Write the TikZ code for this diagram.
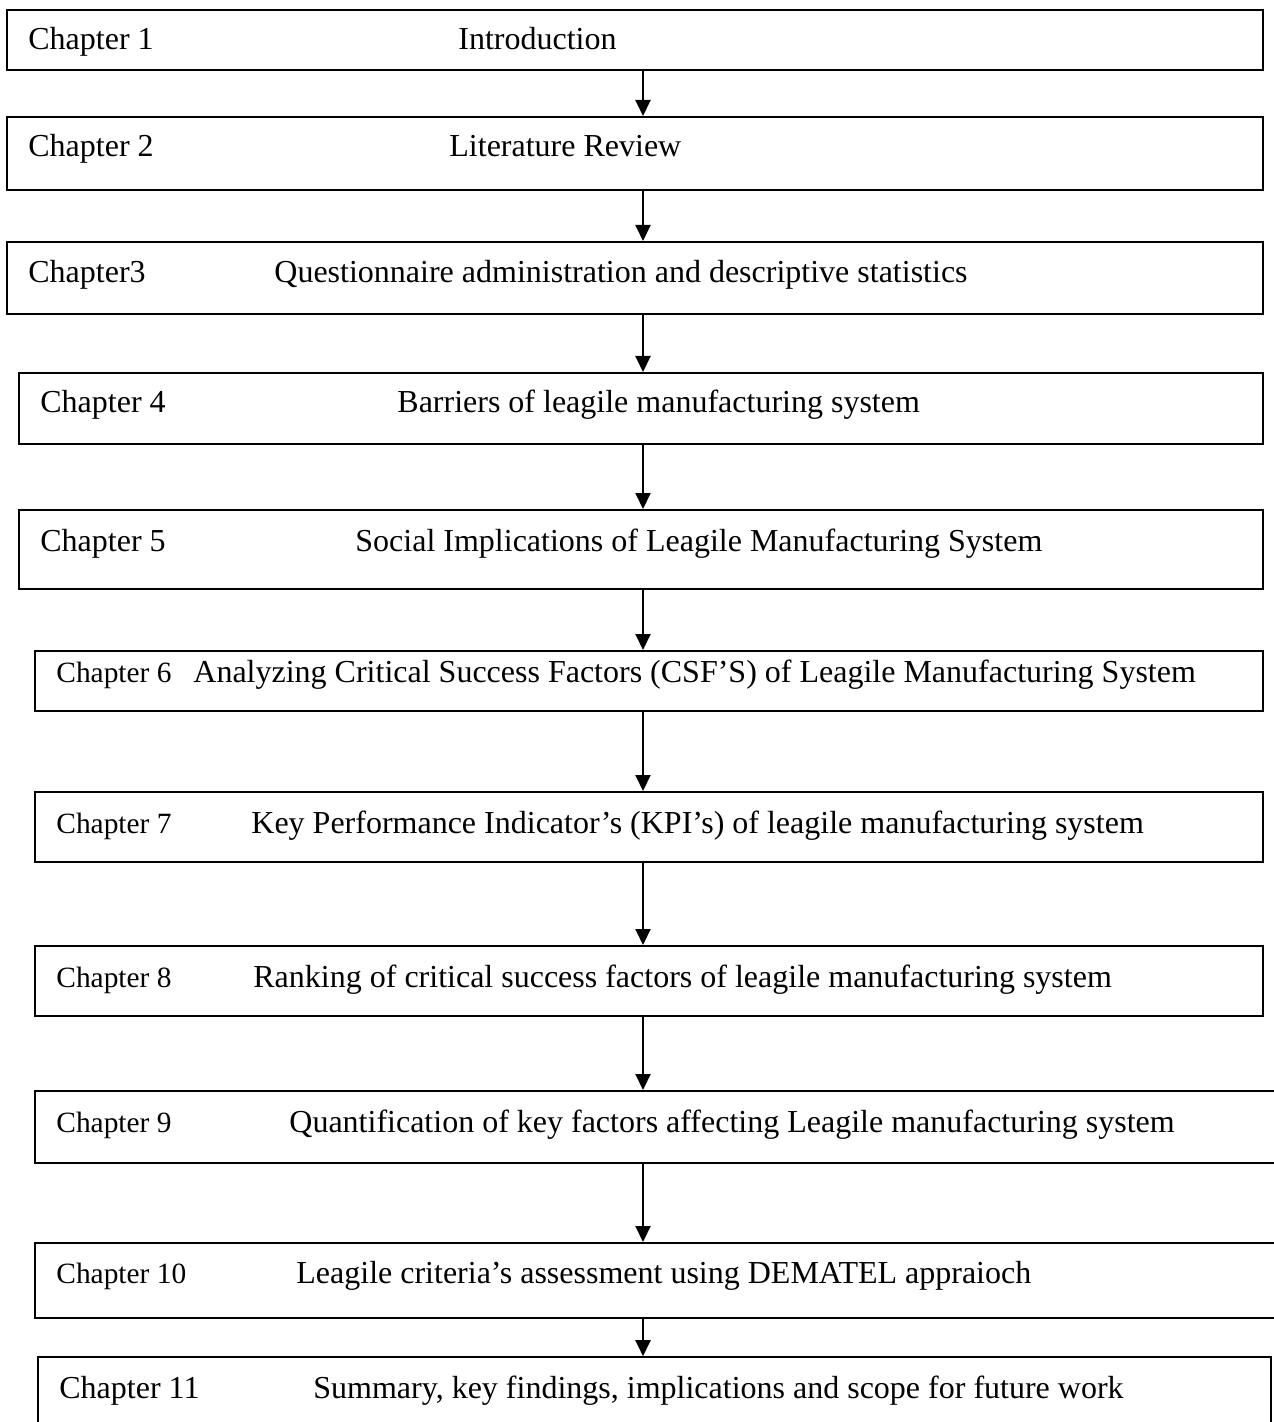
\documentclass[tikz,border=0pt]{standalone}
\usepackage{fontspec}
\setmainfont{Liberation Serif}
\usetikzlibrary{arrows.meta,fit}
\tikzset{
  x=0.5pt, y=-0.5pt,
  chbox/.style={draw, line width=1pt, inner sep=0pt, rectangle},
  lbl/.style={anchor=base west, inner sep=0pt, font=\fontsize{16}{19}\selectfont},
  lbls/.style={anchor=base west, inner sep=0pt, font=\fontsize{14.7}{18}\selectfont},
  arr/.style={line width=1pt, -{Triangle[width=7.5pt,length=8pt]}}
}
\newcommand{\chbox}[5]{\node[chbox, fit={(#2,#3) (#4,#5)}] (#1) {};}
\begin{document}
\begin{tikzpicture}
\useasboundingbox (0,0) rectangle (1273,1422);
% chapter boxes
\chbox{c1}{7}{10}{1263}{70}
\chbox{c2}{7}{117}{1263}{190}
\chbox{c3}{7}{242}{1263}{314}
\chbox{c4}{19}{373}{1263}{444}
\chbox{c5}{19}{510}{1263}{589}
\chbox{c6}{35}{651}{1263}{711}
\chbox{c7}{35}{792}{1263}{862}
\chbox{c8}{35}{946}{1263}{1016}
\chbox{c9}{35}{1091}{1290}{1163}
\chbox{c10}{35}{1243}{1290}{1318}
\node[draw, line width=0.8pt, inner sep=0pt, fit={(38,1357) (1271,1440)}] (c11) {};
% labels
\node[lbl] (l1a) at (28,50) {Chapter 1};
\node[lbl] (l1b) at (458,50) {Introduction};
\node[lbl] (l2a) at (28,157) {Chapter 2};
\node[lbl] (l2b) at (449,157) {Literature Review};
\node[lbl] (l3a) at (28,283) {Chapter3};
\node[lbl] (l3b) at (274,283) {Questionnaire administration and descriptive statistics};
\node[lbl] (l4a) at (40,413) {Chapter 4};
\node[lbl] (l4b) at (397,413) {Barriers of leagile manufacturing system};
\node[lbl] (l5a) at (40,551) {Chapter 5};
\node[lbl] (l5b) at (355,551) {Social Implications of Leagile Manufacturing System};
\node[lbls] (l6a) at (56,682) {Chapter 6};
\node[lbl] (l6b) at (193,682) {Analyzing Critical Success Factors (CSF’S) of Leagile Manufacturing System};
\node[lbls] (l7a) at (56,833) {Chapter 7};
\node[lbl] (l7b) at (251,833) {Key Performance Indicator’s (KPI’s) of leagile manufacturing system};
\node[lbls] (l8a) at (56,987) {Chapter 8};
\node[lbl] (l8b) at (253,987) {Ranking of critical success factors of leagile manufacturing system};
\node[lbls] (l9a) at (56,1132) {Chapter 9};
\node[lbl] (l9b) at (289,1132) {Quantification of key factors affecting Leagile manufacturing system};
\node[lbls] (l10a) at (56,1283) {Chapter 10};
\node[lbl] (l10b) at (296,1283) {Leagile criteria’s assessment using DEMATEL appraioch};
\node[lbl] (l11a) at (59,1398) {Chapter 11};
\node[lbl] (l11b) at (313,1398) {Summary, key findings, implications and scope for future work};
% connecting arrows
\coordinate (ax) at (643,0);
\foreach \a/\b in {c1/c2,c2/c3,c3/c4,c4/c5,c5/c6,c6/c7,c7/c8,c8/c9,c9/c10,c10/c11}
  \draw[arr] (\a.south -| ax) -- (\b.north -| ax);
\end{tikzpicture}
\end{document}
